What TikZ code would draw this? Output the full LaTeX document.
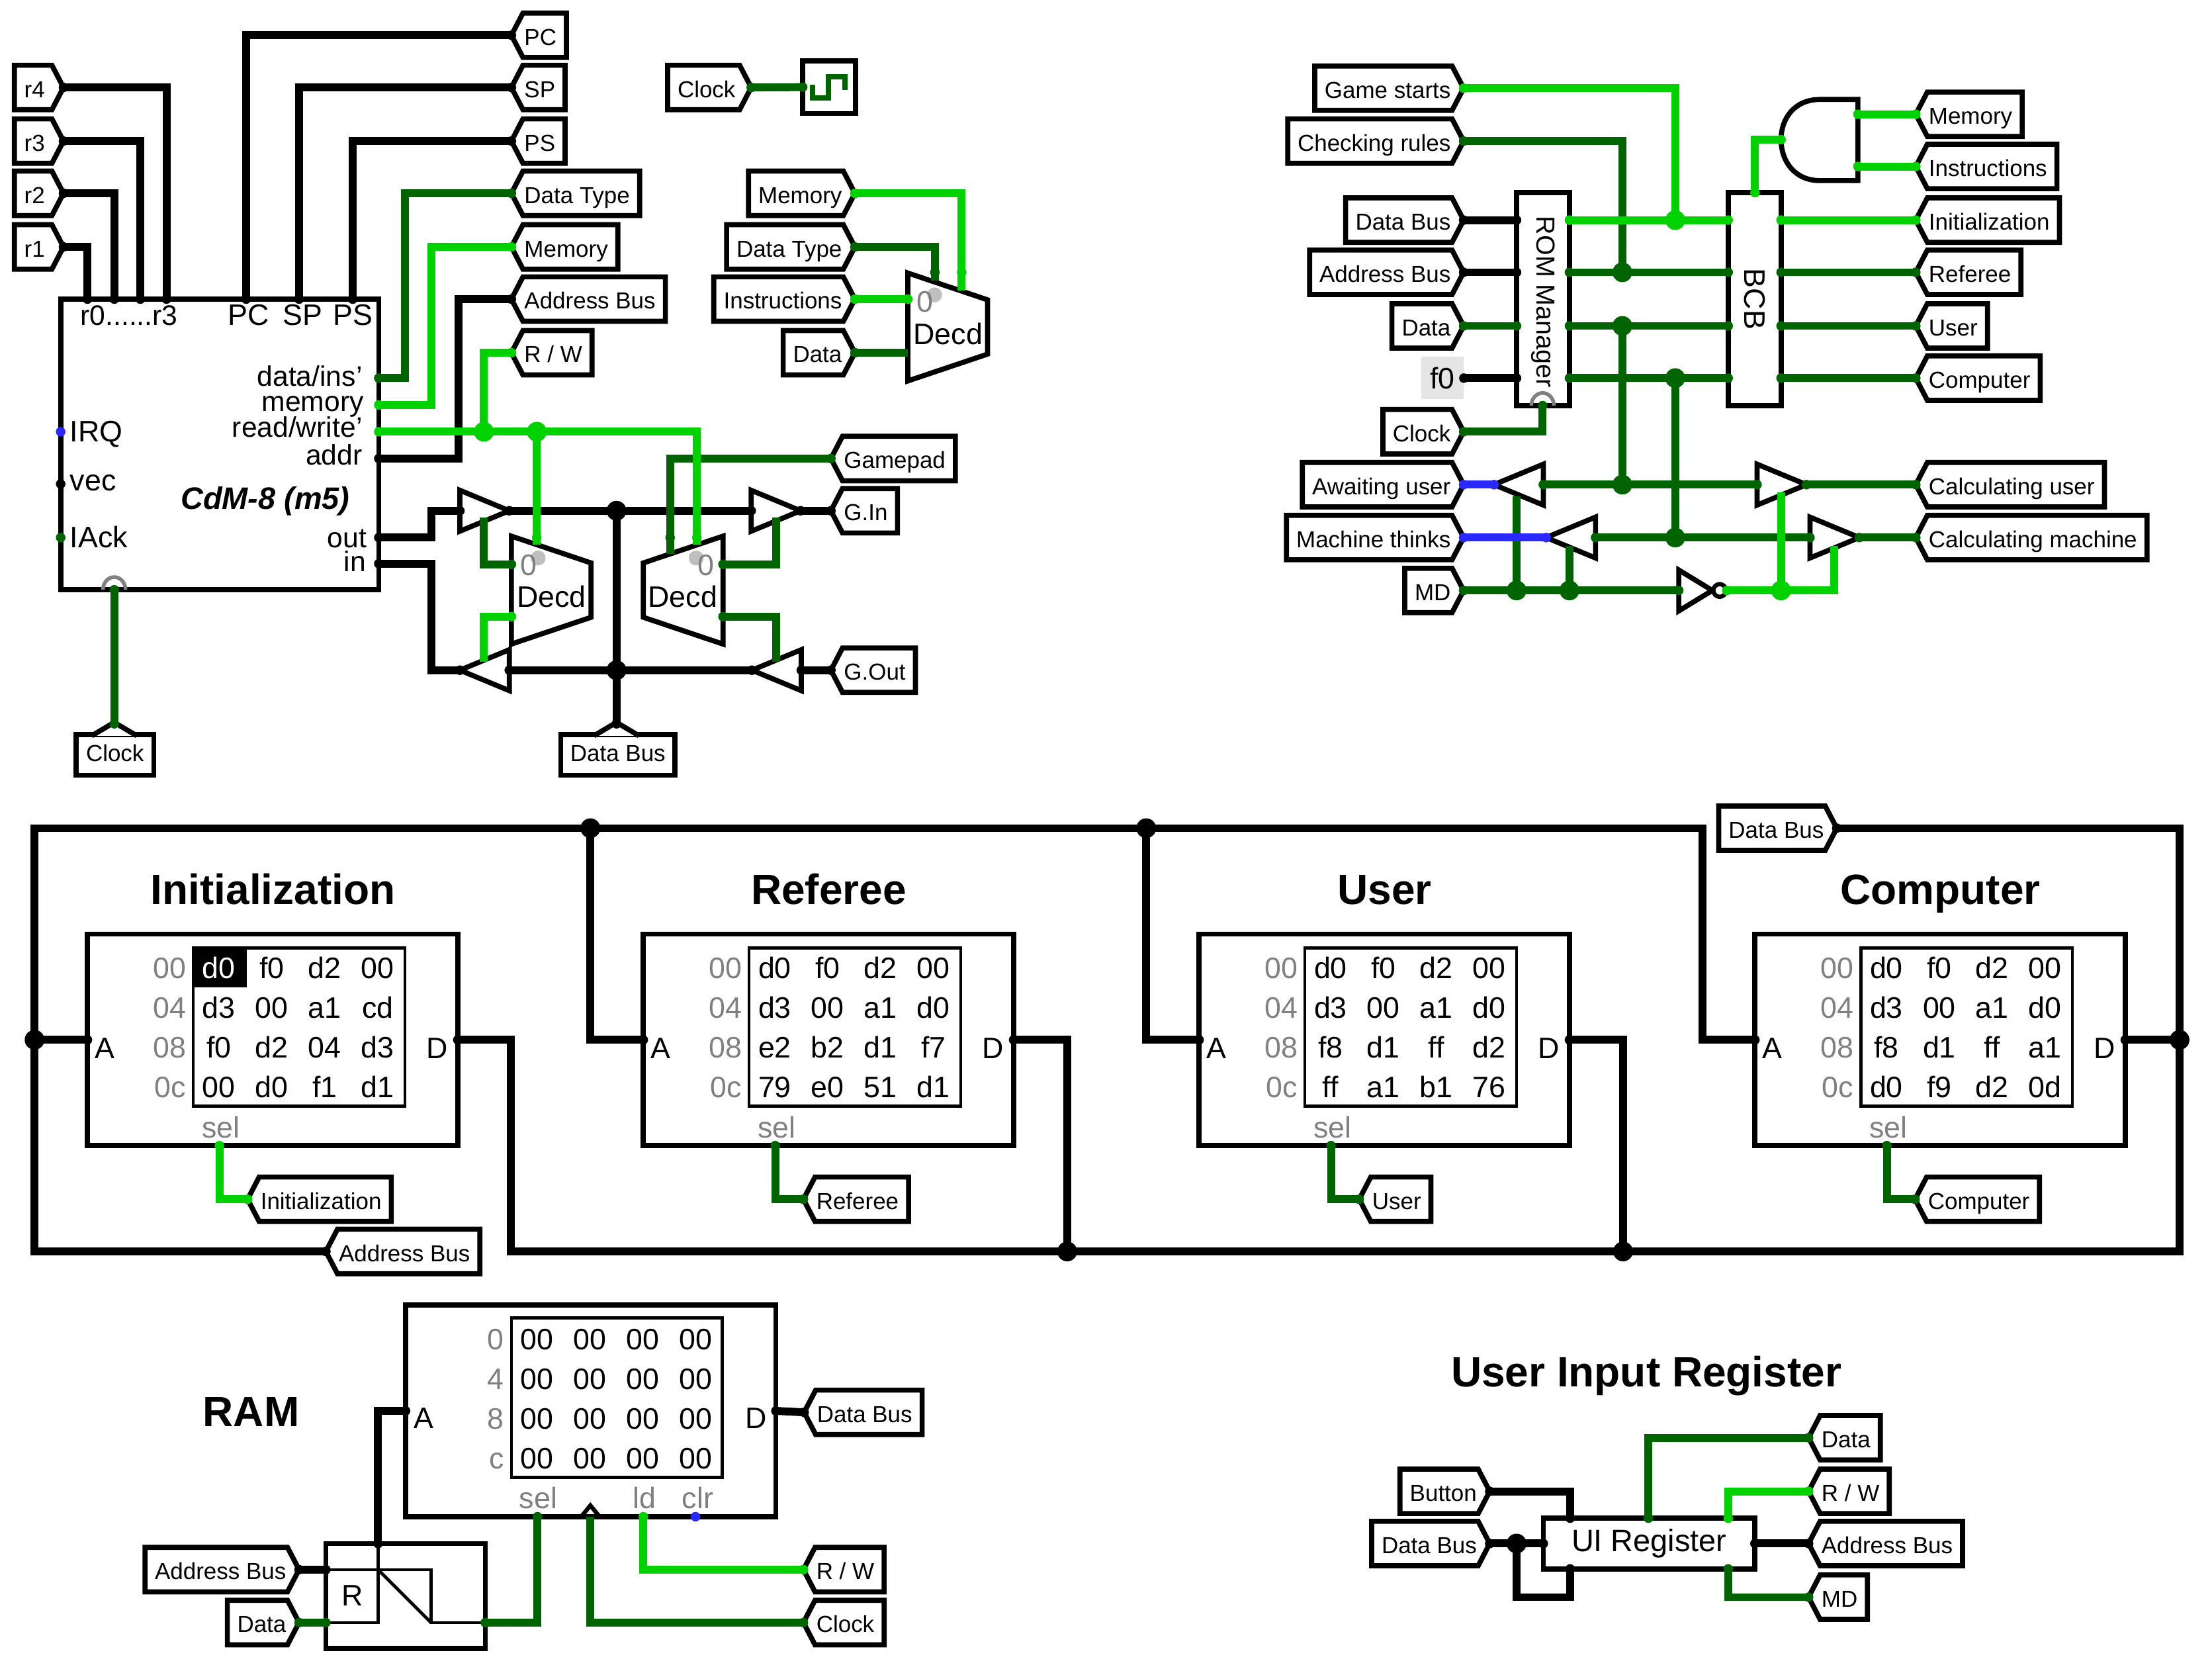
\documentclass[tikz,border=0pt]{standalone}
\usepackage{fontspec}
\setmainfont{Liberation Sans}
\usetikzlibrary{shapes.symbols}
\definecolor{wdark}{RGB}{0,100,0}
\definecolor{wlight}{RGB}{0,210,0}
\definecolor{wblue}{RGB}{40,40,255}
\definecolor{lblgray}{RGB}{128,128,128}
\tikzset{
    box/.style={draw,line width=3.6pt,fill=white,inner sep=0pt,outer sep=0pt},
    memgrid/.style={draw,line width=2.2pt,fill=white,inner sep=0pt,outer sep=0pt,anchor=north west},
    tun/.style={shape=signal,draw,line width=3.6pt,fill=white,outer sep=0pt,signal pointer angle=125,
        inner xsep=4pt,inner ysep=0pt,minimum height=31.5pt,text height=15pt,text depth=1pt,
        font=\fontsize{16.4}{20}\selectfont},
    tunw/.style={tun,signal to=west,anchor=west,
        execute at begin node={\kern-3pt},execute at end node={\kern3pt}},
    tune/.style={tun,signal to=east,anchor=east,
        execute at begin node={\kern3pt},execute at end node={\kern-3pt}},
    tunn/.style={box,minimum height=29pt,text height=12.2pt,text depth=3.4pt,font=\fontsize{16.4}{20}\selectfont,anchor=north},
    lbl/.style={inner sep=0pt,font=\fontsize{21}{24}\selectfont},
    glbl/.style={lbl,text=lblgray},
    ttl/.style={inner sep=0pt,anchor=base,font=\fontsize{30}{34}\selectfont\bfseries},
    wbk/.style={line width=5.6pt,black},
    wdk/.style={line width=5.6pt,wdark},
    wlt/.style={line width=5.6pt,wlight},
    wbl/.style={line width=5.6pt,wblue},
    thin wire/.style={line width=2.2pt,black},
}
\newcommand{\buffer}[4]{% name, base x, y, direction
    \draw[box] (#2,#3-14.5) -- ++({#4*35},14.5) -- ++({-#4*35},14.5) -- cycle;
    \coordinate (#1i) at (#2,#3);
    \coordinate (#1o) at ({#2+#4*35},#3);
}
\begin{document}
\begin{tikzpicture}[x=1pt,y=-1pt]
    \useasboundingbox (0,0) rectangle (1568,1180);
    % tunnels of the CPU part
    \foreach \n/\y in {r4/62,r3/100,r2/137,r1/175}
        \node[tune] (t\n) at (45,\y) {\n\kern4pt};
    \foreach \x/\y/\n/\t in {362.5/25/PC/PC,362.5/62/SP/SP,362.5/100/PS/PS,362.5/137/DT/Data Type,
        362.5/175/Mem/Memory,362.5/212/Addr/Address Bus,362.5/250/RW/{R / W},
        589/325/Pad/Gamepad,589/362/GIn/G.In,589/475/GOut/G.Out}
        \node[tunw] (t\n) at (\x,\y) {\t};
    \foreach \y/\n/\t in {137/MemB/Memory,175/DTB/Data Type,212/Ins/Instructions,250/DatB/Data}
        \node[tune] (t\n) at (606,\y) {\t};
    \node[tune] (tClkA) at (532.5,62) {Clock\kern2pt};
    \node[tunn,minimum width=55pt] (tClkB) at (81.5,520.5) {Clock};
    \node[tunn,minimum width=81pt] (tBusB) at (438,520.5) {Data Bus};
    \foreach \x in {81,437}
        \draw[line width=3.6pt,fill=white] (\x-16,521.5) -- (\x,512) -- (\x+16,521.5);
    \coordinate (tClkBtip) at (81,513);
    \coordinate (tBusBtip) at (437,513);

    % CPU
    \node[box,minimum width=225.5pt,minimum height=206pt,anchor=north west] (cpu) at (43,212) {};
    \draw[lblgray,line width=2.6pt] (73,418) arc (180:360:8 and 9);
    \foreach \n/\x in {R1/62,R2/81,R3/99.5,R4/118,PC/174.5,SP/212,PS/250}
        \coordinate (c\n) at (\x,212);
    \foreach \n/\y in {Ins/268,Mem/287,RW/306,Addr/325,Out/381,In/399.5}
        \coordinate (c\n) at (268.5,\y);
    \coordinate (cClk) at (81,418);
    \node[lbl,anchor=base] (cpuRegs) at (91.5,230.5) {\fontsize{20}{24}\selectfont r0......r3};
    \foreach \n/\x/\t in {PC/176/PC,SP/214.5/SP,PS/250/PS}
        \node[lbl,anchor=base] (lbl\n) at (\x,230.5) {\t};
    \foreach \n/\y/\t in {Irq/313/IRQ,Vec/348/vec,Ack/388/IAck}
        \node[lbl,anchor=base west] (lbl\n) at (49.5,\y) {\t};
    \foreach \n/\x/\y/\t in {Ins/257/273.5/{data/ins\char39},Mem/258/291.5/memory,RW/257/310/{read/write\char39},
        Addr/257/329.5/addr,Out/260/388/out,In/259.5/405/in}
        \node[lbl,anchor=base east,font=\fontsize{20}{22}\selectfont] (lbl\n) at (\x,\y) {\t};
    \node[inner sep=0pt,anchor=base,font=\fontsize{22}{24}\selectfont\bfseries\itshape] (cpuName) at (188,361) {CdM-8 (m5)};

    % buffers and decoders
    \buffer{bA}{326}{362}{1}
    \buffer{bB}{532.5}{362}{1}
    \buffer{bC}{361}{475}{-1}
    \buffer{bD}{568}{475}{-1}
    \foreach \n/\x/\y/\d in {decA/362.5/380/1,decB/512.5/380/-1,decC/643.5/193.5/1} {
        \draw[box] (\x,\y) -- ({\x+\d*56.5},{\y+19}) -- ({\x+\d*56.5},{\y+57.5}) -- (\x,{\y+76.5}) -- cycle;
        \fill[black!25] ({\x+\d*19},{\y+15.5}) circle (5.3);
        \node[glbl] (\n z) at ({\x+\d*12},{\y+20.5}) {0};
        \node[lbl] (\n t) at ({\x+\d*28.5},{\y+43}) {Decd};
    }
    % clock
    \node[box,minimum size=37.5pt,anchor=north west] (clk) at (569,43) {};
    \draw[wdark,line width=3.7pt] (576,60) -- (576,69.4) -- (587.4,69.4) -- (587.4,54.4) -- (598.8,54.4) -- (598.8,63.7);

    % game logic
    \foreach \y/\n/\t in {62.5/GS/Game starts,100/CR/Checking rules,156/BusC/Data Bus,193/AddrC/Address Bus,
        231/DatC/Data,306/ClkC/Clock,343.5/AU/Awaiting user,381/MT/Machine thinks,418.5/MD/MD}
        \node[tune] (t\n) at (1037.5,\y) {\t};
    \foreach \y/\n/\t in {81/MemC/Memory,118/InsC/Instructions,156/Ini/Initialization,193/Ref/Referee,
        231/Usr/User,268/Cmp/Computer,343.5/CU/Calculating user,381/CM/Calculating machine}
        \node[tunw] (t\n) at (1358,\y) {\t};
    \node[fill=black!10,lbl,minimum width=30pt,minimum height=30pt] (cstF) at (1022.5,268) {f0};
    \node[box,minimum width=37.5pt,minimum height=151pt,anchor=north west] (rom) at (1075,136.5) {};
    \node[lbl,rotate=-90,font=\fontsize{18.5}{20}\selectfont] (romName) at (1094,214) {ROM Manager};
    \draw[lblgray,line width=2.6pt] (1085.5,287.5) arc (180:360:8 and 9);
    \node[box,minimum width=37.5pt,minimum height=151pt,anchor=north west] (bcb) at (1225,136.5) {};
    \node[lbl,rotate=-90] (bcbName) at (1244,212) {BCB};
    \draw[box] (1317,70.5) -- (1290,70.5) .. controls (1272,70.5) and (1262.5,84) .. (1262.5,99)
        .. controls (1262.5,114) and (1272,128) .. (1290,128) -- (1317,128) -- cycle;
    \buffer{bE}{1094}{343.5}{-1}
    \buffer{bF}{1245.5}{343.5}{1}
    \buffer{bG}{1131}{381}{-1}
    \buffer{bH}{1283}{381}{1}
    \buffer{bI}{1190}{418.5}{0.68}
    \draw[box,line width=3pt] (1219,418.5) circle (4.5);

    % the four ROMs
    \foreach \bx/\bn/\bt/\cells in {
        62/Ini/Initialization/{d0,f0,d2,00,d3,00,a1,cd,f0,d2,04,d3,00,d0,f1,d1},
        456/Ref/Referee/{d0,f0,d2,00,d3,00,a1,d0,e2,b2,d1,f7,79,e0,51,d1},
        850/Usr/User/{d0,f0,d2,00,d3,00,a1,d0,f8,d1,ff,d2,ff,a1,b1,76},
        1244/Cmp/Computer/{d0,f0,d2,00,d3,00,a1,d0,f8,d1,ff,a1,d0,f9,d2,0d}} {
        \node[box,minimum width=262.5pt,minimum height=150pt,anchor=north west] (rom\bn) at (\bx,662) {};
        \node[memgrid,minimum width=150pt,minimum height=112pt] (grid\bn) at ({\bx+75},672) {};
        \node[ttl] (ttl\bn) at ({\bx+131.5},641) {\bt};
        \node[lbl,anchor=base] (a\bn) at ({\bx+12.5},750) {A};
        \node[lbl,anchor=base] (d\bn) at ({\bx+248},750) {D};
        \node[glbl,anchor=base] (sel\bn) at ({\bx+94.5},806.5) {sel};
        \node[tunw] (s\bn) at ({\bx+113.5},850) {\bt};
        \coordinate (p\bn) at ({\bx+93.5},812);
        \foreach \r/\t in {0/00,1/04,2/08,3/0c}
            \node[glbl,anchor=base east] (o\bn\r) at ({\bx+70},{693.7+28.1*\r}) {\t};
        \ifnum\bx=62 \fill[black] (137,671) rectangle (175,700); \fi
        \foreach \c [count=\i from 0] in \cells {
            \pgfmathtruncatemacro{\cx}{mod(\i,4)}
            \pgfmathtruncatemacro{\cy}{\i/4}
            \edef\celltext{\ifnum\bx=62 \ifnum\i=0 white\else black\fi\else black\fi}
            \node[lbl,anchor=base,text=\celltext] (c\bn\i) at ({\bx+93.2+37.5*\cx},{693.7+28.1*\cy}) {\c};
        }
    }
    \node[tunw] (tAddrD) at (231,887) {Address Bus};
    \node[tune] (tBusD) at (1302,587) {Data Bus};
    \coordinate (nw) at (24.5,587);
    \coordinate (ne) at (1545,587);
    \coordinate (se) at (1545,887);
    \coordinate (sw) at (24.5,887);

    % RAM
    \node[ttl] (ttlRam) at (178,1011) {RAM};
    \node[box,minimum width=262.5pt,minimum height=150pt,anchor=north west] (ram) at (287.5,925) {};
    \node[memgrid,minimum width=149.5pt,minimum height=113pt] (gridRam) at (362.5,934) {};
    \foreach \r/\t in {0/0,1/4,2/8,3/c}
        \node[glbl,anchor=base east] (oRam\r) at (357.5,{956.5+28.1*\r}) {\t};
    \foreach \r in {0,1,2,3}
        \foreach \c in {0,1,2,3}
            \node[lbl,anchor=base] (cRam\r\c) at ({380.4+37.55*\c},{956.5+28.1*\r}) {00};
    \node[lbl,anchor=base] (aRam) at (300.5,1012.5) {A};
    \node[lbl,anchor=base] (dRam) at (536,1012.5) {D};
    \foreach \n/\x/\t in {Sel/381.5/sel,Ld/457/ld,Clr/494.5/clr}
        \node[glbl,anchor=base] (l\n) at (\x,1069) {\t};
    \draw[black,line width=3pt] (412,1075) -- (418.5,1067) -- (425,1075);
    \foreach \n/\x in {Sel/381,Ck/418.5,Ld/456,Clr/493}
        \coordinate (r\n) at (\x,1075);
    \node[tunw] (tBusE) at (570,1001) {Data Bus};
    \node[tunw] (tRWE) at (569.5,1112.5) {R / W};
    \node[tunw] (tClkE) at (569.5,1150) {Clock};
    \node[tune] (tAddrE) at (212,1112.5) {Address Bus};
    \node[tune] (tDatE) at (212,1150) {Data};
    \node[box,minimum width=113pt,minimum height=74.5pt,anchor=north west] (reg) at (231,1094) {};
    \node[lbl,anchor=base] (regName) at (250,1138) {R};
    \coordinate (regTop) at (268,1094);
    \coordinate (regD) at (231,1112.5);
    \coordinate (regE) at (231,1150);
    \coordinate (regQ) at (344,1150);
    \draw[thin wire] (regD) -- (305.5,1112.5) -- (305.5,1150) -- (regQ);
    \draw[thin wire] (regTop) -- (268,1150) -- (regE);
    \draw[thin wire] (268,1112.5) -- (305.5,1150);

    % user input register
    \node[ttl] (ttlUir) at (1167,983) {User Input Register};
    \node[tune] (tBtn) at (1056,1057) {Button};
    \node[tune] (tBusF) at (1056,1094) {Data Bus};
    \foreach \y/\n/\t in {1019/DatF/Data,1057/RWF/{R / W},1094/AddrF/Address Bus,1132/MDF/MD}
        \node[tunw] (t\n) at (1282,\y) {\t};
    \node[box,minimum width=150pt,minimum height=36pt,anchor=north west,font=\fontsize{22}{24}\selectfont] (uir) at (1094,1076) {UI Register};
    \foreach \n/\x/\y in {Btn/1113/1076,Bak/1113/1112,Dat/1168.5/1076,RW/1225/1076,MD/1225/1112}
        \coordinate (u\n) at (\x,\y);

    % black wires
    \foreach \n/\p in {tr1/cR1,tr2/cR2,tr3/cR3,tr4/cR4}
        \draw[wbk] (\n.east) -| (\p);
    \foreach \n/\p in {tPC/cPC,tSP/cSP,tPS/cPS}
        \draw[wbk] (\n.west) -| (\p);
    \draw[wbk] (tAddr.west) -- (325,212) -- (325,325) -- (cAddr);
    \draw[wbk] (cOut) -- (306,381) -- (306,362) -- (bAi);
    \draw[wbk] (cIn) -- (306,399.5) -- (306,475) -- (bCo);
    \draw[wbk] (bAo) -- (bBi);
    \draw[wbk] (bBo) -- (tGIn.west);
    \draw[wbk] (bCi) -- (bDo);
    \draw[wbk] (bDi) -- (tGOut.west);
    \draw[wbk] (437,362) -- (tBusBtip);
    \draw[wbk] (tBusC.east) -- (1075,156);
    \draw[wbk] (tAddrC.east) -- (1075,193);
    \draw[wbk] (cstF.east) -- (1075,268);
    % data and address bus of the ROMs
    \draw[wbk] (tAddrD.west) -- (sw) -- (nw) -- (1207,587) -- (1207,737) -- (romCmp.west);
    \draw[wbk] (24.5,737) -- (romIni.west);
    \draw[wbk] (418.5,587) -- (418.5,737) -- (romRef.west);
    \draw[wbk] (812.5,587) -- (812.5,737) -- (romUsr.west);
    \draw[wbk] (tBusD.east) -- (ne) -- (se) -- (362,887) -- (362,737) -- (romIni.east);
    \draw[wbk] (romRef.east) -- (756.5,737) -- (756.5,887);
    \draw[wbk] (romUsr.east) -- (1150.5,737) -- (1150.5,887);
    \draw[wbk] (romCmp.east) -- (1545,737);
    \draw[wbk] (tBusE.west) -- (ram.east);
    \draw[wbk] (ram.west) -- (268,1000) -- (regTop);
    \draw[wbk] (tAddrE.east) -- (regD);
    \draw[wbk] (tBtn.east) -- (1113,1057) -- (uBtn);
    \draw[wbk] (tBusF.east) -- (uir.west);
    \draw[wbk] (1075,1094) -- (1075,1132) -- (1113,1132) -- (uBak);
    \draw[wbk] (uir.east) -- (tAddrF.west);

    % green wires, dark ones first
    \draw[wdk] (tDT.west) -- (287,137) -- (287,268) -- (cIns);
    \draw[wdk] (tPad.west) -- (475,325) -- (475,392.5);
    \draw[wdk] (362.5,400) -- (343,400) -- (343,367);
    \draw[wdk] (512.5,400) -- (550,400) -- (550,367);
    \draw[wdk] (512.5,437) -- (550,437) -- (550,469);
    \draw[wdk] (cClk) -- (tClkBtip);
    \draw[wdk] (tClkA.east) -- (clk.west);
    \draw[wdk] (tDTB.east) -- (662.7,175) -- (662.7,199);
    \draw[wdk] (tDatB.east) -- (643.5,250);
    \draw[wdk] (tDatC.east) -- (1075,231);
    \draw[wdk] (tClkC.east) -- (1093.5,306) -- (1093.5,287.5);
    \draw[wdk] (tCR.east) -- (1150,100) -- (1150,193);
    \draw[wdk] (1150,231) -- (1150,343.5);
    \draw[wdk] (1187.5,268) -- (1187.5,381);
    \foreach \y/\n in {193/Ref,231/Usr,268/Cmp} {
        \draw[wdk] (1112.5,\y) -- (1225,\y);
        \draw[wdk] (1262.5,\y) -- (t\n.west);
    }
    \draw[wdk] (bEi) -- (bFi);
    \draw[wdk] (bFo) -- (tCU.west);
    \draw[wdk] (bGi) -- (bHi);
    \draw[wdk] (bHo) -- (tCM.west);
    \draw[wdk] (tMD.east) -- (bIi);
    \draw[wdk] (1075,418.5) -- (1075,352);
    \draw[wdk] (1112.5,418.5) -- (1112.5,387);
    \draw[wdk] (regQ) -- (381,1150) -- (rSel);
    \draw[wdk] (tClkE.west) -- (418.5,1150) -- (rCk);
    \draw[wdk] (tDatE.east) -- (regE);
    \draw[wdk] (uDat) -- (1168.5,1019) -- (tDatF.west);
    \draw[wdk] (uMD) -- (1225,1132) -- (tMDF.west);
    \foreach \n in {Ref,Usr,Cmp}
        \draw[wdk] (p\n) |- (s\n.west);

    \draw[wlt] (tMem.west) -- (306,175) -- (306,287) -- (cMem);
    \draw[wlt] (tRW.west) -- (343,250) -- (343,306);
    \draw[wlt] (cRW) -- (494,306) -- (494,386);
    \draw[wlt] (380.5,306) -- (380.5,386);
    \draw[wlt] (362.5,437) -- (343,437) -- (343,469);
    \draw[wlt] (tMemB.east) -- (681.7,137) -- (681.7,206);
    \draw[wlt] (tIns.east) -- (643.5,212);
    \draw[wlt] (tGS.east) -- (1187.5,62.5) -- (1187.5,156);
    \draw[wlt] (1112.5,156) -- (1225,156);
    \draw[wlt] (1262.5,156) -- (tIni.west);
    \draw[wlt] (1262.5,99) -- (1244,99) -- (1244,136.5);
    \draw[wlt] (1317,81) -- (tMemC.west);
    \draw[wlt] (1317,118) -- (tInsC.west);
    \draw[wlt] (1224,418.5) -- (1300,418.5) -- (1300,387);
    \draw[wlt] (1262.5,418.5) -- (1262.5,349);
    \draw[wlt] (pIni) |- (sIni.west);
    \draw[wlt] (tRWE.west) -- (456,1112.5) -- (rLd);
    \draw[wlt] (uRW) -- (1225,1057) -- (tRWF.west);

    % blue wires
    \draw[wbl] (tAU.east) -- (bEo);
    \draw[wbl] (tMT.east) -- (bGo);

    % pin dots
    \foreach \p in {tr1.east,tr2.east,tr3.east,tr4.east,cR1,cR2,cR3,cR4,cPC,cSP,cPS,tPC.west,tSP.west,tPS.west,
        tAddr.west,cAddr,cOut,cIn,bAi,bAo,bBi,bBo,bCi,bCo,bDi,bDo,tBusC.east,tAddrC.east,cstF.east,romIni.west,
        romIni.east,romRef.west,romRef.east,romUsr.west,romUsr.east,romCmp.west,romCmp.east,ram.west,ram.east,
        tBusE.west,regTop,tAddrE.east,regD,tBtn.east,tBusF.east,uir.west,uir.east,uBtn,uBak,tAddrF.west,
        tBusD.east,tAddrD.west,tGIn.west,tGOut.west,tBusBtip}
        \fill[black] (\p) circle (3.4);
    \fill[black] (43,343) circle (3.4);
    \fill[black] (1075,156) circle (3.4);
    \fill[black] (1075,193) circle (3.4);
    \fill[black] (1075,268) circle (3.4);
    \foreach \p in {cIns,cClk,tClkBtip,tDT.west,tPad.west,tClkA.east,clk.west,tDTB.east,tDatB.east,tDatC.east,tClkC.east,
        tCR.east,bEi,bFi,bFo,bGi,bHi,bHo,tCU.west,tCM.west,tMD.east,bIi,tRef.west,tUsr.west,tCmp.west,
        pRef,pUsr,pCmp,sRef.west,sUsr.west,sCmp.west,regQ,rSel,tClkE.west,tDatE.east,regE,uDat,uMD,tDatF.west,tMDF.west}
        \fill[wdark] (\p) circle (3.4);
    \foreach \x/\y in {475/381,362.5/400,512.5/400,512.5/437,662.7/193,43/381,1075/231,1112.5/193,1225/193,
        1112.5/231,1225/231,1112.5/268,1225/268,1262.5/193,1262.5/231,1262.5/268,1093.5/287.5}
        \fill[wdark] (\x,\y) circle (3.4);
    \foreach \p in {cMem,cRW,tMem.west,tRW.west,tMemB.east,tIns.east,tGS.east,tIni.west,tMemC.west,tInsC.west,
        pIni,sIni.west,tRWE.west,rLd,uRW,tRWF.west}
        \fill[wlight] (\p) circle (3.4);
    \foreach \x/\y in {494/381,380.5/381,362.5/437,681.7/193,643.5/212,1112.5/156,1225/156,1262.5/156,
        1262.5/99,1244/136.5,1317/81,1317/118,1224/418.5}
        \fill[wlight] (\x,\y) circle (3.4);
    \foreach \p in {tAU.east,bEo,tMT.east,bGo,rClr}
        \fill[wblue] (\p) circle (3.4);
    \fill[wblue] (43,306) circle (3.4);

    % junctions
    \foreach \x/\y in {437/362,437/475,24.5/737,418.5/587,812.5/587,756.5/887,1150.5/887,1545/737,1075/1094}
        \fill[black] (\x,\y) circle (7);
    \foreach \x/\y in {1150/193,1150/231,1187.5/268,1150/343.5,1187.5/381,1075/418.5,1112.5/418.5}
        \fill[wdark] (\x,\y) circle (7);
    \foreach \x/\y in {343/306,380.5/306,1187.5/156,1262.5/418.5}
        \fill[wlight] (\x,\y) circle (7);
\end{tikzpicture}
\end{document}
